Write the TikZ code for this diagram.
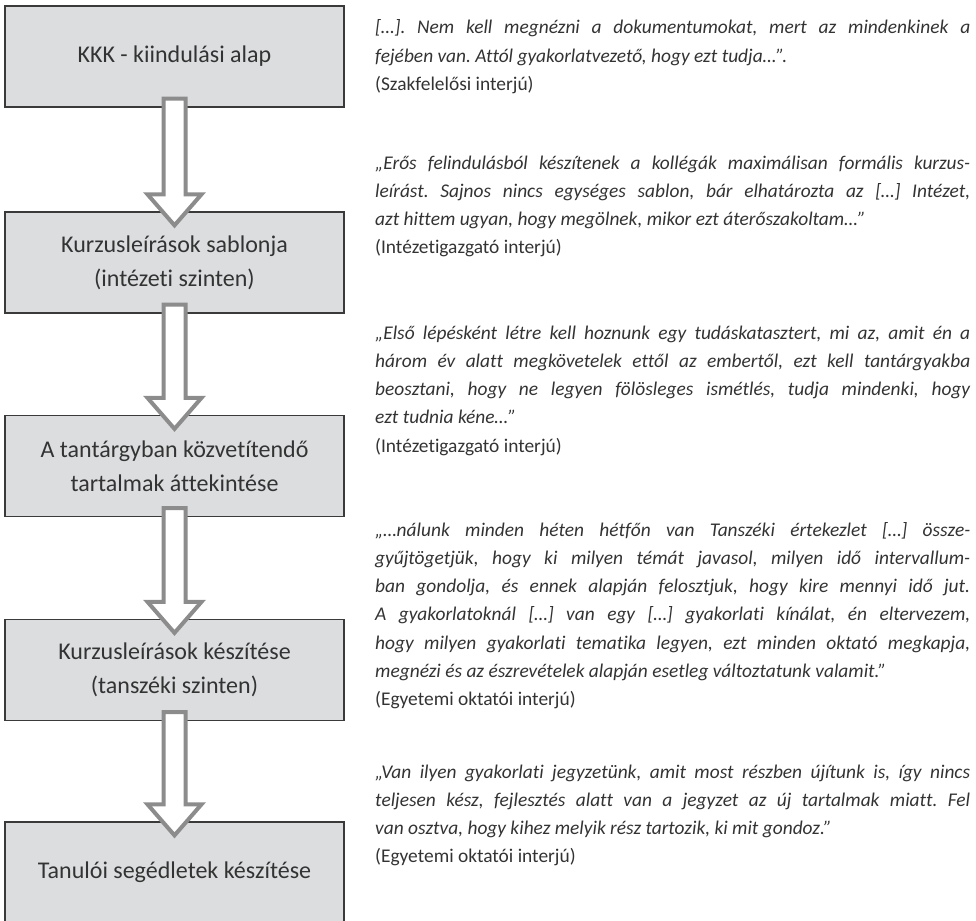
\documentclass[tikz,border=0pt]{standalone}
\usepackage{fontspec}
\setmainfont{Carlito}[Ligatures={TeX,NoCommon}]
\usetikzlibrary{calc}
\definecolor{boxfill}{HTML}{DCDDDF}
\definecolor{boxline}{HTML}{3A3A3A}
\definecolor{arrowgray}{HTML}{8C8C8C}
\definecolor{txt}{HTML}{333333}
\newlength{\qw}
\setlength{\qw}{595pt}
\newcommand{\jl}[1]{\makebox[\qw][s]{#1}}
\newcommand{\blockarr}[2]{%
  \draw[blockarrow] ($(#1.south)+(-11,-9)$) -- ($(#1.south)+(11,-9)$)
    -- ($(#2.north)+(11,-17)$) -- ($(#2.north)+(27,-17)$)
    -- ($(#2.north)+(0,14)$) -- ($(#2.north)+(-27,-17)$)
    -- ($(#2.north)+(-11,-17)$) -- cycle;}
\begin{document}
\frenchspacing
\begin{tikzpicture}[x=1pt,y=-1pt,
  stepbox/.style={draw=boxline, fill=boxfill, line width=1.3pt,
    minimum width=339pt, minimum height=101pt, inner sep=0pt,
    align=center, font=\fontsize{24}{34}\selectfont, text=txt},
  blockarrow/.style={draw=arrowgray, fill=white, line width=4pt, line join=miter},
  quote/.style={anchor=base west, inner sep=0pt, text=txt,
    font=\fontsize{19.4}{28.3}\selectfont}]
\useasboundingbox (0,0) rectangle (976,920);

\node[stepbox] (b1) at (174.5,56.5) {KKK - kiindulási alap};
\node[stepbox] (b2) at (174.5,262.5) {Kurzusleírások sablonja\\(intézeti szinten)};
\node[stepbox] (b3) at (174.5,466) {A tantárgyban közvetítendő\\tartalmak áttekintése};
\node[stepbox] (b4) at (174.5,670) {Kurzusleírások készítése\\(tanszéki szinten)};
\node[stepbox] (b5) at (174.5,872.5) {Tanulói segédletek készítése};

\blockarr{b1}{b2}
\blockarr{b2}{b3}
\blockarr{b3}{b4}
\blockarr{b4}{b5}

\node[quote] (q1) at (375,34) {\parbox[t]{\qw}{\baselineskip=28.3pt\itshape
\jl{[…]. Nem kell megnézni a dokumentumokat, mert az mindenkinek a}\\
fejében van. Attól gyakorlatvezető, hogy ezt tudja…".\\
{\upshape (Szakfelelősi interjú)}}};

\node[quote] (q2) at (375,169) {\parbox[t]{\qw}{\baselineskip=28.3pt\itshape
\jl{„Erős felindulásból készítenek a kollégák maximálisan formális kurzus-}\\
\jl{leírást. Sajnos nincs egységes sablon, bár elhatározta az […] Intézet,}\\
azt hittem ugyan, hogy megölnek, mikor ezt áterőszakoltam…"\\
{\upshape (Intézetigazgató interjú)}}};

\node[quote] (q3) at (375,339) {\parbox[t]{\qw}{\baselineskip=28.3pt\itshape
\jl{„Első lépésként létre kell hoznunk egy tudáskatasztert, mi az, amit én a}\\
\jl{három év alatt megkövetelek ettől az embertől, ezt kell tantárgyakba}\\
\jl{beosztani, hogy ne legyen fölösleges ismétlés, tudja mindenki, hogy}\\
ezt tudnia kéne…"\\
{\upshape (Intézetigazgató interjú)}}};

\node[quote] (q4) at (375,536) {\parbox[t]{\qw}{\baselineskip=28.3pt\itshape
\jl{„…nálunk minden héten hétfőn van Tanszéki értekezlet […] össze-}\\
\jl{gyűjtögetjük, hogy ki milyen témát javasol, milyen idő intervallum-}\\
\jl{ban gondolja, és ennek alapján felosztjuk, hogy kire mennyi idő jut.}\\
\jl{A gyakorlatoknál […] van egy […] gyakorlati kínálat, én eltervezem,}\\
\jl{hogy milyen gyakorlati tematika legyen, ezt minden oktató megkapja,}\\
megnézi és az észrevételek alapján esetleg változtatunk valamit."\\
{\upshape (Egyetemi oktatói interjú)}}};

\node[quote] (q5) at (375,778) {\parbox[t]{\qw}{\baselineskip=28.3pt\itshape
\jl{„Van ilyen gyakorlati jegyzetünk, amit most részben újítunk is, így nincs}\\
\jl{teljesen kész, fejlesztés alatt van a jegyzet az új tartalmak miatt. Fel}\\
van osztva, hogy kihez melyik rész tartozik, ki mit gondoz."\\
{\upshape (Egyetemi oktatói interjú)}}};
\end{tikzpicture}
\end{document}
